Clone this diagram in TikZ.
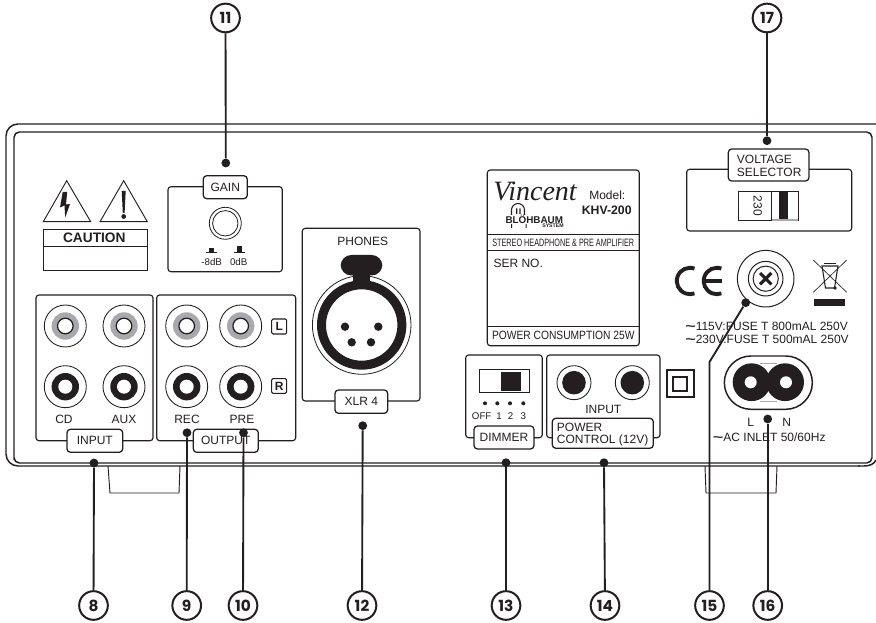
\documentclass[tikz,border=0pt]{standalone}
\usepackage{fontspec}
\setmainfont{Liberation Sans}
\newfontfamily\calloutFont{Poppins}
\newfontfamily\brandFont{Liberation Serif}
\definecolor{panelLine}{RGB}{35,31,32}
\definecolor{panelGrey}{RGB}{167,169,172}
\newcommand{\wavemark}{\textbf{\scalebox{1.5}[1]{\textasciitilde}}}

\begin{document}
\begin{tikzpicture}[x=.75pt,y=-.75pt,
      panel/.style={draw=panelLine, fill=white, rounded corners=2.2pt, line width=.85pt},
      tagbox/.style={draw=panelLine, fill=white, rounded corners=2.6pt, line width=.95pt},
      thin line/.style={draw=panelLine, line width=.7pt},
      legend/.style={font=\fontsize{9}{10}\selectfont, text=panelLine, inner sep=0pt},
      small/.style={font=\fontsize{7.3}{8.2}\selectfont, text=panelLine, inner sep=0pt},
      callout/.style={circle, draw=panelLine, fill=white, line width=1.5pt, minimum size=21.5pt,
        inner sep=0pt, font=\calloutFont\bfseries\fontsize{11.5}{12}\selectfont, text=panelLine},
      pin/.style={circle, fill=panelLine, minimum size=6.6pt, inner sep=0pt},
      lead/.style={draw=panelLine, line width=1.4pt}]
      \useasboundingbox (0,0) rectangle (876,623);
      \fill[white] (0,0) rectangle (876,623);

      % feet and chassis
      \draw[thin line] (108,466) -- (110,493) -- (179,493) -- (180,466);
      \draw[thin line] (705,466) -- (706,493) -- (776,493) -- (777,466);
      \draw[panelLine, line width=1.1pt, rounded corners=9pt]
        (876,124) -- (6,124) -- (6,466) -- (876,466);
      \path[fill=white] (860,462) rectangle (876,470);
      \draw[panelLine, line width=1.1pt] (858,466) -- (864,466) .. controls (870,466) and (874,464) .. (876,460);
      \draw[panelLine, line width=1.1pt, rounded corners=4pt]
        (14,463) -- (14,132) -- (872,132) -- (872,463) -- (14,463) -- cycle;

      % warnings
      \draw[thin line, line join=miter] (66.7,180.7) -- (43.3,221.7) -- (90.7,221.7) -- cycle;
      \draw[thin line, line join=miter] (123.7,180.7) -- (100,221.7) -- (147.3,221.7) -- cycle;
      \fill[panelLine] (62.7,192) -- (60,207.5) -- (64.5,205.5) -- (65.2,217.5) -- (70,204) -- (66,204.5) -- (67.2,192) -- cycle;
      \fill[panelLine] (121.7,191) -- (125.7,191) -- (124.6,213) -- (122.8,213) -- cycle;
      \fill[panelLine] (123.7,216.5) circle (2.4);
      \draw[thin line] (43.3,229.3) rectangle (147.3,270.7);
      \draw[thin line] (43.3,246) -- (147.3,246);
      \node[font=\bfseries\fontsize{10.3}{11}\selectfont, text=panelLine, inner sep=0pt] (caution) at (94.3,238) {CAUTION};

      % gain
      \path[panel] (168,186.7) rectangle (282.3,271.7);
      \draw[panelLine, line width=.6pt] (225.3,223.3) circle (16) (225.3,223.3) circle (12.7);
      \foreach \sx/\sy in {211.3/248.5,239.3/246.5}{
        \fill[panelLine] ({\sx-5.5},252) rectangle ({\sx+5.5},253.5);
        \fill[panelLine] ({\sx-2.8},\sy) rectangle ({\sx+2.8},252);}
      \node[small] (gainlow) at (211.7,261.7) {-8dB};
      \node[small] (gainzero) at (238.7,261.7) {0dB};
      \path[tagbox] (203.3,175.7) rectangle (247.3,198.7);
      \node[legend] (gain) at (225.3,187.2) {GAIN};

      % rca sockets
      \path[panel] (36,295) rectangle (153,440.7);
      \path[panel] (156.7,295) rectangle (295.7,440.7);
      \foreach \jx in {65.3,124,186.7,240.7}{
        \draw[panelLine, line width=.65pt] (\jx,326) circle (21);
        \fill[panelGrey] (\jx,326) circle (13.7);
        \draw[panelLine, fill=white, line width=.95pt] (\jx,326) circle (7.8);
        \draw[panelLine, line width=.65pt] (\jx,386.7) circle (21);
        \fill[panelLine] (\jx,386.7) circle (13.7);
        \fill[white] (\jx,386.7) circle (7);}
      \node[legend] (cd) at (64,419) {CD};
      \node[legend] (aux) at (124,419) {AUX};
      \node[legend] (rec) at (187,419) {REC};
      \node[legend] (pre) at (242,419) {PRE};
      \draw[panelLine, line width=.8pt, rounded corners=1pt] (271.7,319) rectangle (286.7,334);
      \draw[panelLine, line width=.8pt, rounded corners=1pt] (271.7,378.7) rectangle (286.7,393.3);
      \node[legend, font=\bfseries\fontsize{9}{10}\selectfont] (left) at (279.2,326.5) {L};
      \node[legend, font=\bfseries\fontsize{9}{10}\selectfont] (right) at (279.2,386) {R};
      \path[tagbox] (67,429.3) rectangle (122.7,452.3);
      \node[legend] (input) at (94.8,440.8) {INPUT};
      \path[tagbox] (193.3,429.3) rectangle (258.3,452.3);
      \node[legend] (output) at (225.8,440.8) {OUTPUT};

      % phones
      \path[panel] (302.3,228.3) rectangle (420,401);
      \node[legend] (phones) at (362.7,241) {PHONES};
      \draw[panelLine, line width=.6pt] (361.7,325) circle (49.3);
      \fill[panelLine, even odd rule] (361.7,325) circle (44.7) (361.7,325) circle (35.7);
      \fill[panelLine] (353,270) rectangle (370,285);
      \fill[panelLine, rounded corners=8pt] (340.7,255) rectangle (382.3,275.5);
      \foreach \px/\py in {345/326.7,378.3/326.7,351.7/342.3,371/342.3}{
        \fill[panelLine] (\px,\py) circle (4.2);}
      \path[tagbox] (335,390) rectangle (387.7,413.3);
      \node[legend] (xlr) at (361.3,401.7) {XLR 4};

      % rating plate
      \path[panel] (487.3,170) rectangle (639.3,345.7);
      \draw[thin line] (487.3,234) -- (639.3,234);
      \draw[thin line] (487.3,250.7) -- (639.3,250.7);
      \draw[thin line] (487.3,326) -- (639.3,326);
      \node[font=\brandFont\itshape\fontsize{21}{22}\selectfont, text=panelLine, inner sep=0pt] (vincent) at (535,191) {Vincent};
      \node[legend] (model) at (607.3,195) {Model:};
      \node[legend, font=\bfseries\fontsize{9.2}{10}\selectfont] (khv) at (606.7,210) {KHV-200};
      \node[font=\bfseries\fontsize{7.4}{8}\selectfont, text=panelLine, inner sep=0pt, anchor=base] (blohbaum) at (534.3,223.2) {BLÖHBAUM};
      \node[font=\bfseries\fontsize{3.9}{4.5}\selectfont, text=panelLine, inner sep=0pt, anchor=north] (system) at (553,223.9) {SYSTEM};
      \draw[panelLine, line width=.8pt] (511.5,215) -- (511.5,210) arc[start angle=180, end angle=360, radius=6.5] -- (524.5,215);
      \fill[panelLine] (516.2,208.5) rectangle (517.4,214) (519.4,208.5) rectangle (520.6,214);
      \fill[panelLine] (511,224) rectangle (512.2,228) (525.5,224) rectangle (526.7,228);
      \node[legend, font=\fontsize{8}{9}\selectfont] (stereo) at (563.3,243.3) {\scalebox{.68}[1]{STEREO HEADPHONE \& PRE AMPLIFIER}};
      \node[legend, anchor=west] (serial) at (493.3,263.3) {SER NO.};
      \node[legend] (consumption) at (563.3,335.7) {\scalebox{.855}[1]{POWER CONSUMPTION 25W}};

      % dimmer
      \path[panel] (465.7,355) rectangle (542.3,437.7);
      \draw[thin line] (479,369.3) rectangle (529.3,392.7);
      \fill[panelLine] (501,372) rectangle (521.3,391);
      \foreach \dx in {485,497.3,510,523.3}{
        \fill[panelLine] (\dx,403.3) circle (2);}
      \node[small] (off) at (481.7,415.7) {OFF};
      \node[small] (one) at (499,415.7) {1};
      \node[small] (two) at (510.7,415.7) {2};
      \node[small] (three) at (523.3,415.7) {3};
      \path[tagbox] (474,426) rectangle (534,449);
      \node[legend] (dimmer) at (504,437.5) {DIMMER};

      % power control
      \path[panel] (546.7,355) rectangle (660,437.7);
      \foreach \jx in {574,632.3}{
        \draw[panelLine, line width=.65pt] (\jx,382.7) circle (17);
        \fill[panelLine] (\jx,382.7) circle (11.8);}
      \node[legend] (powerinput) at (603.3,409.3) {INPUT};
      \path[tagbox] (552.3,418.3) rectangle (653.3,448.3);
      \node[legend, anchor=west] (power) at (556.7,427.3) {POWER};
      \node[legend, anchor=west] (control) at (556.7,440) {CONTROL (12V)};
      \draw[panelLine, line width=1.5pt] (666.7,370) rectangle (694,397.3);
      \draw[panelLine, line width=1.5pt] (673.3,376.7) rectangle (687.3,390.7);

      % voltage selector
      \path[panel] (686.7,169.3) rectangle (851.7,231);
      \draw[thin line] (738.3,191.7) rectangle (798.3,220.7);
      \draw[thin line] (771.7,191.7) rectangle (798.3,219);
      \fill[panelLine] (779.3,191.7) rectangle (788.3,219);
      \fill[panelGrey] (771.7,219) rectangle (798.3,220.7);
      \node[legend, rotate=-90] (volts) at (757.7,206) {230};
      \path[tagbox] (728.3,149) rectangle (809,181);
      \node[legend, anchor=west] (voltage) at (736.7,159.3) {VOLTAGE};
      \node[legend, anchor=west] (selector) at (736.7,172.3) {SELECTOR};

      % ce mark, fuse holder, bin
      \draw[panelLine, line width=2.9pt] (694.5,268.6) arc[start angle=-70, end angle=-290, radius=13.2];
      \draw[panelLine, line width=2.9pt] (721.4,268.6) arc[start angle=-70, end angle=-290, radius=13.2];
      \draw[panelLine, line width=2.6pt] (705,281) -- (722,281);
      \draw[panelLine, line width=.75pt] (765.7,278.7) circle (28.3);
      \draw[panelLine, line width=.75pt] (765.7,278.7) circle (17.3);
      \draw[panelLine, line width=.75pt] (765.7,278.7) circle (12.6);
      \draw[panelLine, line width=2.3pt] (760,273) -- (771.4,284.4) (771.4,273) -- (760,284.4);
      \draw[panelLine, line width=.5pt] (813.3,260) -- (846.7,292.3) (846.7,260) -- (813.3,292.3);
      \draw[panelLine, line width=.8pt] (822,266) -- (838,266) -- (834.5,288) -- (825.5,288) -- cycle;
      \draw[panelLine, line width=.9pt] (824,263.5) -- (836,263.5);
      \fill[panelLine] (835,288) circle (1.9);
      \fill[panelLine] (814.3,299.3) rectangle (845,305.7);
      \node[legend, anchor=west] (fuselow) at (685,326.7) {\wavemark 115V:FUSE T 800mAL 250V};
      \node[legend, anchor=west] (fusehigh) at (685,339) {\wavemark 230V:FUSE T 500mAL 250V};

      % ac inlet
      \draw[panelLine, line width=1.1pt] (751,356) -- (785.7,356) arc[start angle=-90, end angle=90, radius=26.65] -- (751,409.3) arc[start angle=90, end angle=270, radius=26.65] -- cycle;
      \fill[panelLine] (751.6,382.2) circle (18.9) (785.1,382.2) circle (18.9);
      \fill[white] (750.7,382.3) circle (6) (786,382.3) circle (6);
      \draw[panelGrey, line width=.4pt] (760,363.3) -- (776.7,363.3) (760,401) -- (776.7,401);
      \node[legend] (live) at (750.7,422.7) {L};
      \node[legend] (neutral) at (786.7,422.7) {N};
      \node[legend, anchor=west] (inlet) at (712.7,437.7) {\wavemark AC INLET 50/60Hz};

      % callouts
      \node[callout] (num8) at (93.5,605.5) {8};
      \node[callout] (num9) at (186.7,605.5) {9};
      \node[callout] (num10) at (243,605.5) {10};
      \node[callout] (num11) at (225.5,18) {11};
      \node[callout] (num12) at (362,605.5) {12};
      \node[callout] (num13) at (506,605.5) {13};
      \node[callout] (num14) at (605,605.5) {14};
      \node[callout] (num15) at (709.5,605.5) {15};
      \node[callout] (num16) at (767.7,605.5) {16};
      \node[callout] (num17) at (767,18) {17};
      \node[pin] (dot8) at (94,463) {};
      \node[pin] (dot9) at (187,432.7) {};
      \node[pin] (dot10) at (243.5,432.7) {};
      \node[pin] (dot11) at (225.8,163) {};
      \node[pin] (dot12) at (362.7,425.7) {};
      \node[pin] (dot13) at (506,462.7) {};
      \node[pin] (dot14) at (604,462.7) {};
      \node[pin] (dot15) at (745.7,302.7) {};
      \node[pin] (dot16) at (767.7,419) {};
      \node[pin] (dot17) at (767,140.7) {};
      \coordinate (bend15) at (709.5,362);
      \foreach \i in {8,9,10,11,12,13,14,16,17}{
        \draw[lead] (dot\i) -- (num\i);}
      \draw[lead, line join=round] (dot15) -- (bend15) -- (num15);
    \end{tikzpicture}
\end{document}
